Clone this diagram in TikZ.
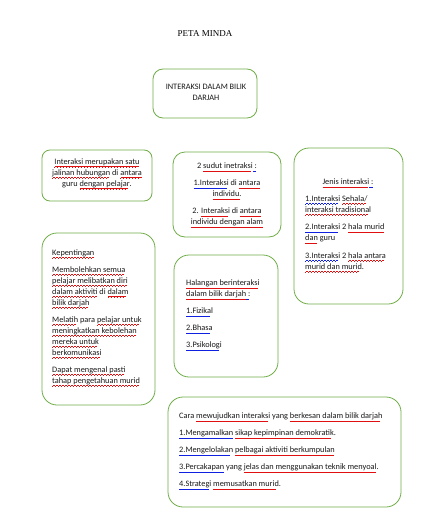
\documentclass[tikz,border=0pt]{standalone}
\usepackage{fontspec}
\setmainfont{Carlito}
\newfontfamily\titlefont{Liberation Serif}
\definecolor{boxgreen}{HTML}{70AD47}
\definecolor{wavered}{HTML}{E01010}
\definecolor{waveblue}{HTML}{1020E0}
\newcommand\wavepiece[1]{\textcolor{#1}{\rule[0pt]{0.75pt}{0.45pt}\rule[0.4pt]{0.75pt}{0.45pt}\rule[0.8pt]{0.75pt}{0.45pt}\rule[0.4pt]{0.75pt}{0.45pt}}}
\newcommand\wavyline[2]{\begingroup\setbox0\hbox{#2}\rlap{\raisebox{-2.8pt}[0pt][0pt]{\hbox to\wd0{\leaders\hbox{\wavepiece{#1}}\hfill}}}\box0\endgroup}
\newcommand\rw[1]{\wavyline{wavered}{#1}}
\newcommand\bw[1]{\wavyline{waveblue}{#1}}
\tikzset{
  box/.style={draw=boxgreen, line width=0.8pt, rounded corners=#1, inner sep=0pt},
  box/.default=12pt,
  txt/.style={font=\fontsize{8.3}{11}\selectfont, text=black!90, inner sep=0pt, align=left},
}
\begin{document}
\begin{tikzpicture}[x=1pt,y=-1pt]
\path[use as bounding box, fill=white] (0,0) rectangle (427,514);
\node[font=\titlefont\fontsize{9}{11}\selectfont] (title) at (205,34) {PETA MINDA};
% boxes
\node[box=10pt, minimum width=104pt, minimum height=49pt] (b1) at (205,93.5) {};
\node[box=8pt, minimum width=110pt, minimum height=51pt] (b2) at (97,175.5) {};
\node[box=12pt, minimum width=108pt, minimum height=85pt] (b3) at (227,194.5) {};
\node[box=15pt, minimum width=109pt, minimum height=156pt] (b4) at (348.5,226) {};
\node[box=15pt, minimum width=113pt, minimum height=172pt] (b5) at (98.5,319) {};
\node[box=15pt, minimum width=104pt, minimum height=122pt] (b6) at (226,316) {};
\node[box=15pt, minimum width=233pt, minimum height=110pt] (b7) at (284.5,452) {};
% texts
\node[txt, align=center, anchor=north] (t1) at (206,84) {INTERAKSI DALAM BILIK\\DARJAH};
\node[txt, align=center, anchor=north] (t2) at (97,158.5) {\rw{Interaksi merupakan satu}\\\rw{jalinan hubungan} di \rw{antara}\\guru \rw{dengan pelajar}.};
\node[txt, align=center, anchor=north] (t3) at (227,163) {2 \rw{sudut inetraksi}\bw{ :}\\[6pt]\bw{1.Interaksi} di \rw{antara}\\\rw{individu.}\\[6pt]2. \rw{Interaksi} di \rw{antara}\\\rw{individu dengan alam}};
\node[txt, align=center, anchor=north] (t4a) at (348,179) {\rw{Jenis interaksi}\bw{ :}};
\node[txt, anchor=north west] (t4) at (305,195.5) {\bw{1.Interaksi} \rw{Sehala/}\\\rw{interaksi tradisional}\\[6.5pt]\bw{2.Interaksi} 2 \rw{hala murid}\\\rw{dan} guru\\[6.5pt]\bw{3.Interaksi} 2 \rw{hala antara}\\\rw{murid dan murid}.};
\node[txt, anchor=north west] (t5) at (52,249.5) {\rw{Kepentingan}\\[6pt]\rw{Membolehkan semua}\\\rw{pelajar melibatkan diri}\\\rw{dalam aktiviti} di \rw{dalam}\\\rw{bilik darjah}\\[6pt]\rw{Melatih} para \rw{pelajar untuk}\\\rw{meningkatkan kebolehan}\\\rw{mereka untuk}\\\rw{berkomunikasi}\\[6pt]\rw{Dapat mengenal pasti}\\\rw{tahap pengetahuan murid}};
\node[txt, anchor=north west] (t6) at (186,280) {\rw{Halangan berinteraksi}\\\rw{dalam bilik darjah}\bw{ :}\\[6pt]\bw{1.Fizikal}\\[6pt]\bw{2.Bhasa}\\[6pt]\bw{3.Psikologi}};
\node[txt, anchor=north west] (t7) at (179,413) {Cara \rw{mewujudkan interaksi} yang \rw{berkesan dalam bilik darjah}\\[6pt]\bw{1.Mengamalkan} \rw{sikap kepimpinan demokratik}.\\[6pt]\bw{2.Mengelolakan} \rw{pelbagai aktiviti berkumpulan}\\[6pt]\bw{3.Percakapan} yang \rw{jelas dan menggunakan teknik menyoal}.\\[6pt]\bw{4.Strategi} \rw{memusatkan murid}.};
\end{tikzpicture}
\end{document}
